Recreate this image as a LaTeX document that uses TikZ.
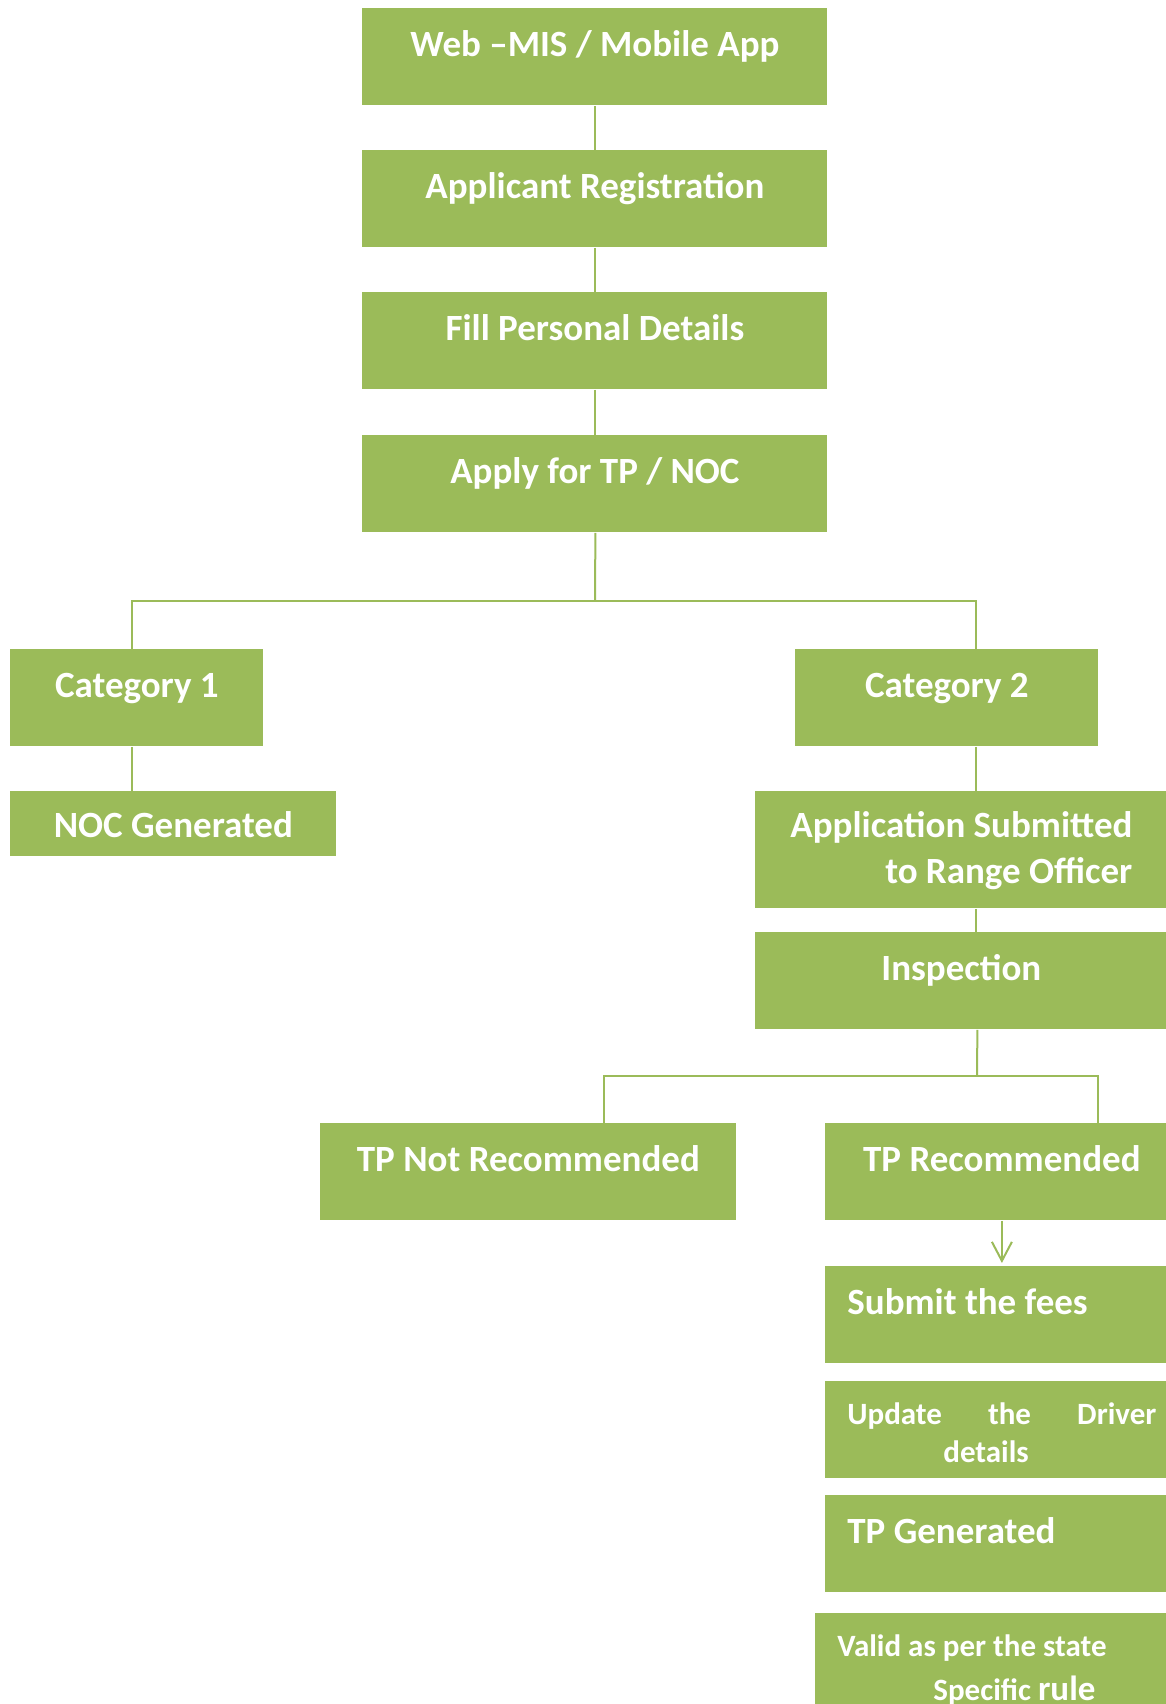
\documentclass[tikz,border=0pt]{standalone}
\usepackage{fontspec}
\setmainfont{Carlito}
\usetikzlibrary{arrows.meta}
\definecolor{tpgreen}{HTML}{9BBB59}

\begin{document}
\begin{tikzpicture}[x=0.5pt, y=-0.5pt,
        stage/.style={fill=tpgreen, text=white, font=\bfseries\fontsize{18.5pt}{22pt}\selectfont,
            inner sep=0pt, anchor=north west, text height=0pt, text depth=0pt},
        lefttext/.style={text width=154.5pt, inner xsep=11pt,
            execute at begin node={\spaceskip=0pt\xspaceskip=0pt}},
        link/.style={draw=tpgreen, line width=1pt}]
        \useasboundingbox (0,0) rectangle (1166,1704);
        \clip (0,0) rectangle (1166,1704);
        \node[stage, minimum width=232.5pt, minimum height=48.5pt] (web) at (362,8) {Web –MIS / Mobile App};
        \node[stage, minimum width=232.5pt, minimum height=48.5pt] (reg) at (362,150) {Applicant Registration};
        \node[stage, minimum width=232.5pt, minimum height=48.5pt] (fill) at (362,292) {Fill Personal Details};
        \node[stage, minimum width=232.5pt, minimum height=48.5pt] (apply) at (362,435) {Apply for TP / NOC};
        \node[stage, minimum width=126.5pt, minimum height=48.5pt] (cat1) at (10,649) {Category 1};
        \node[stage, minimum width=151.5pt, minimum height=48.5pt] (cat2) at (795,649) {Category 2};
        \node[stage, minimum width=163pt, minimum height=32.5pt, text height=13.5pt] (noc) at (10,791) {NOC Generated};
        \node[stage, minimum width=206pt, minimum height=58.5pt, align=right, text height=33.5pt,
            font=\bfseries\fontsize{18.5pt}{23pt}\selectfont] (appsub) at (755,791) {Application Submitted\\to Range Officer};
        \node[stage, minimum width=206pt, minimum height=48.5pt] (inspect) at (755,932) {Inspection};
        \node[stage, minimum width=208pt, minimum height=48.5pt] (tpno) at (320,1123) {TP Not Recommended};
        \node[stage, minimum width=176.5pt, minimum height=48.5pt] (tpyes) at (825,1123) {TP Recommended};
        \node[stage, lefttext, minimum height=48.5pt] (fees) at (825,1266) {Submit the fees};
        \node[stage, lefttext, minimum height=48.5pt, text depth=5.5pt,
            font=\bfseries\fontsize{15.5pt}{19pt}\selectfont] (driver) at (825,1381) {Update\hfill the\hfill Driver\\\hspace*{48pt}details};
        \node[stage, lefttext, minimum height=48.5pt] (tpgen) at (825,1495) {TP Generated};
        \node[stage, lefttext, text width=159.5pt, minimum height=48.5pt, text depth=5.5pt,
            font=\bfseries\fontsize{15.5pt}{22pt}\selectfont] (valid) at (815,1613) {Valid as per the state\\\hspace*{48pt}Specific {\fontsize{17.5pt}{22pt}\selectfont rule}};

        \coordinate (forkA) at (595,601);
        \coordinate (forkB) at (977,1076);
        \draw[link] (web) -- (reg);
        \draw[link] (reg) -- (fill);
        \draw[link] (fill) -- (apply);
        \draw[link] ([xshift=0.25pt]apply.south) -- (forkA);
        \draw[link] ([xshift=-2.25pt]cat1.north) |- (forkA) -| ([xshift=14.75pt]cat2.north);
        \draw[link] ([xshift=-2.25pt]cat1.south) -- ([xshift=-2.25pt]cat1.south |- noc.north);
        \draw[link] ([xshift=14.75pt]cat2.south) -- ([xshift=14.75pt]cat2.south |- appsub.north);
        \draw[link] ([xshift=7.5pt]appsub.south) -- ([xshift=7.5pt]inspect.north);
        \draw[link] ([xshift=8pt]inspect.south) -- (forkB);
        \draw[link] ([xshift=38pt]tpno.north) |- (forkB) -| ([xshift=48.25pt]tpyes.north);
        \draw[link, -{Straight Barb[length=9.5pt, width=10pt]}, shorten >=1.5pt] (tpyes) -- (fees);
    \end{tikzpicture}
\end{document}
